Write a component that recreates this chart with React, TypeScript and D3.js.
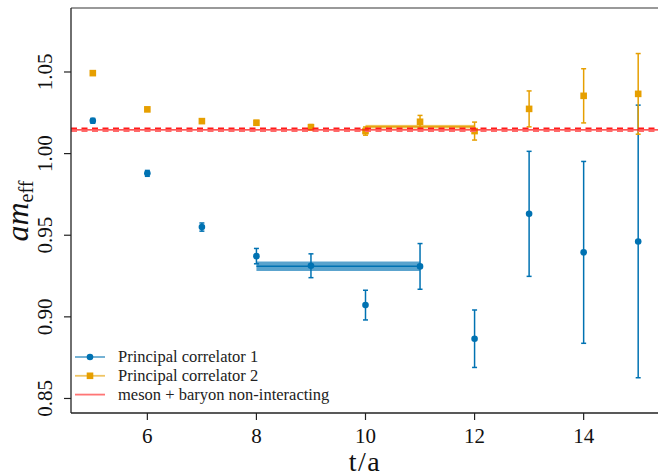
import React from "react";
import * as d3 from "d3";

const tValues = [5, 6, 7, 8, 9, 10, 11, 12, 13, 14, 15];
const pc1Values = [1.0201, 0.9879, 0.955, 0.9372, 0.9313, 0.9072, 0.9309, 0.8866, 0.9631, 0.9395, 0.9462];
const pc1Errors = [0.0015, 0.0018, 0.0025, 0.0047, 0.0073, 0.0091, 0.014, 0.0176, 0.0383, 0.0557, 0.0835];
const pc2Values = [1.0493, 1.0271, 1.0199, 1.0189, 1.0162, 1.0138, 1.0195, 1.0138, 1.0274, 1.0354, 1.0366];
const pc2Errors = [0.0012, 0.0012, 0.0012, 0.0014, 0.0016, 0.0025, 0.0039, 0.0055, 0.011, 0.0166, 0.0247];

const fit1 = { from: 8, to: 11, value: 0.931, err: 0.0029 };
const fit2 = { from: 10, to: 12, value: 1.0165, err: 0.0011 };
const nonInteracting = { value: 1.0146, err: 0.0009 };

const xTicks = [6, 8, 10, 12, 14];
const yTicks = [0.85, 0.9, 0.95, 1.0, 1.05];
const legendLabels = ["Principal correlator 1", "Principal correlator 2", "meson + baryon non-interacting"];

const BLUE = "#0072B2";
const ORANGE = "#E69F00";
const RED = "#ff1a1a";
const FONT = "'Liberation Serif', 'DejaVu Serif', serif";

export default function App() {
  const W = 658, H = 476;
  const x = d3.scaleLinear().domain([4.6, 15.4]).range([71, 660]);
  const y = d3.scaleLinear().domain([0.8411, 1.0892]).range([413, 8]);
  const left = 71, right = 660, top = 8, bottom = 413;
  const cap = 2.5;

  const errBar = (t: number, v: number, e: number, color: string, key: string) => (
    <g key={key} stroke={color} strokeWidth={1.5}>
      <line x1={x(t)} x2={x(t)} y1={y(v + e)} y2={y(v - e)} />
      <line x1={x(t) - cap} x2={x(t) + cap} y1={y(v + e)} y2={y(v + e)} />
      <line x1={x(t) - cap} x2={x(t) + cap} y1={y(v - e)} y2={y(v - e)} />
    </g>
  );

  return (
    <svg width={W} height={H} style={{ position: "absolute", left: 0, top: 0, background: "#fff" }}>
      <defs>
        <clipPath id="plotclip">
          <rect x={left} y={top} width={right - left} height={bottom - top} />
        </clipPath>
      </defs>
      <g clipPath="url(#plotclip)">
        {/* fit band 1 */}
        <rect x={x(fit1.from)} width={x(fit1.to) - x(fit1.from)} y={y(fit1.value + fit1.err)}
          height={y(fit1.value - fit1.err) - y(fit1.value + fit1.err)} fill={BLUE} opacity={0.65} />
        <line x1={x(fit1.from)} x2={x(fit1.to)} y1={y(fit1.value)} y2={y(fit1.value)} stroke={BLUE} strokeWidth={1.5} />
        {/* PC1 */}
        {tValues.map((t, i) => errBar(t, pc1Values[i], pc1Errors[i], BLUE, "e1" + i))}
        {tValues.map((t, i) => (
          <circle key={"c" + i} cx={x(t)} cy={y(pc1Values[i])} r={3.3} fill={BLUE} />
        ))}
        {/* fit band 2 */}
        <rect x={x(fit2.from)} width={x(fit2.to) - x(fit2.from)} y={y(fit2.value + fit2.err)}
          height={y(fit2.value - fit2.err) - y(fit2.value + fit2.err)} fill={ORANGE} opacity={0.65} />
        <line x1={x(fit2.from)} x2={x(fit2.to)} y1={y(fit2.value)} y2={y(fit2.value)} stroke={ORANGE} strokeWidth={1.2} opacity={0.8} />
        {/* PC2 */}
        {tValues.map((t, i) => errBar(t, pc2Values[i], pc2Errors[i], ORANGE, "e2" + i))}
        {tValues.map((t, i) => (
          <rect key={"s" + i} x={x(t) - 3.3} y={y(pc2Values[i]) - 3.3} width={6.6} height={6.6} fill={ORANGE} />
        ))}
        {/* non-interacting */}
        <line x1={left} x2={right} y1={y(nonInteracting.value + nonInteracting.err)} y2={y(nonInteracting.value + nonInteracting.err)}
          stroke={RED} strokeWidth={1.4} strokeDasharray="6,4.5" />
        <line x1={left} x2={right} y1={y(nonInteracting.value - nonInteracting.err)} y2={y(nonInteracting.value - nonInteracting.err)}
          stroke="#ff6a6a" strokeWidth={1.4} strokeDasharray="6,4.5" />
        <line x1={left} x2={right} y1={y(nonInteracting.value)} y2={y(nonInteracting.value)} stroke={RED} strokeWidth={1.2} />
      </g>

      {/* spines */}
      <line x1={left} x2={right} y1={top} y2={top} stroke="#777" strokeWidth={1.3} />
      <line x1={left} x2={left} y1={top} y2={bottom} stroke="#222" strokeWidth={1.3} />
      <line x1={left} x2={right} y1={bottom} y2={bottom} stroke="#222" strokeWidth={1.3} />

      {/* ticks */}
      {xTicks.map((t) => (
        <g key={"xt" + t}>
          <line x1={x(t)} x2={x(t)} y1={bottom} y2={bottom + 7} stroke="#222" strokeWidth={1.2} />
          <text x={x(t)} y={443} textAnchor="middle" fontFamily={FONT} fontSize={21} fill="#111">{t}</text>
        </g>
      ))}
      {yTicks.map((v) => (
        <g key={"yt" + v}>
          <line x1={left - 7} x2={left} y1={y(v)} y2={y(v)} stroke="#222" strokeWidth={1.2} />
          <text transform={`translate(52, ${y(v)}) rotate(-90)`} textAnchor="middle" fontFamily={FONT} fontSize={21} fill="#111">
            {v.toFixed(2)}
          </text>
        </g>
      ))}

      {/* axis labels */}
      <text x={365} y={471} textAnchor="middle" fontFamily={FONT} fontSize={28} letterSpacing={1.5} fill="#111">t/a</text>
      <text transform={`translate(28, 211) rotate(-90)`} textAnchor="middle" fontFamily={FONT} fontSize={32} fill="#111">
        <tspan fontStyle="italic">am</tspan>
        <tspan fontSize={20} dy={5}>eff</tspan>
      </text>

      {/* legend */}
      {legendLabels.map((lab, i) => {
        const ly = 357 + i * 18.8;
        const colors = [BLUE, ORANGE, RED];
        return (
          <g key={"lg" + i}>
            <line x1={75} x2={105} y1={ly} y2={ly} stroke={colors[i]} strokeWidth={1.8} opacity={0.6} />
            {i === 0 && <circle cx={90} cy={ly} r={3.3} fill={BLUE} />}
            {i === 1 && <rect x={90 - 3.3} y={ly - 3.3} width={6.6} height={6.6} fill={ORANGE} />}
            <text x={118} y={ly + 5} fontFamily={FONT} fontSize={16.5} fill="#222">{lab}</text>
          </g>
        );
      })}
    </svg>
  );
}
